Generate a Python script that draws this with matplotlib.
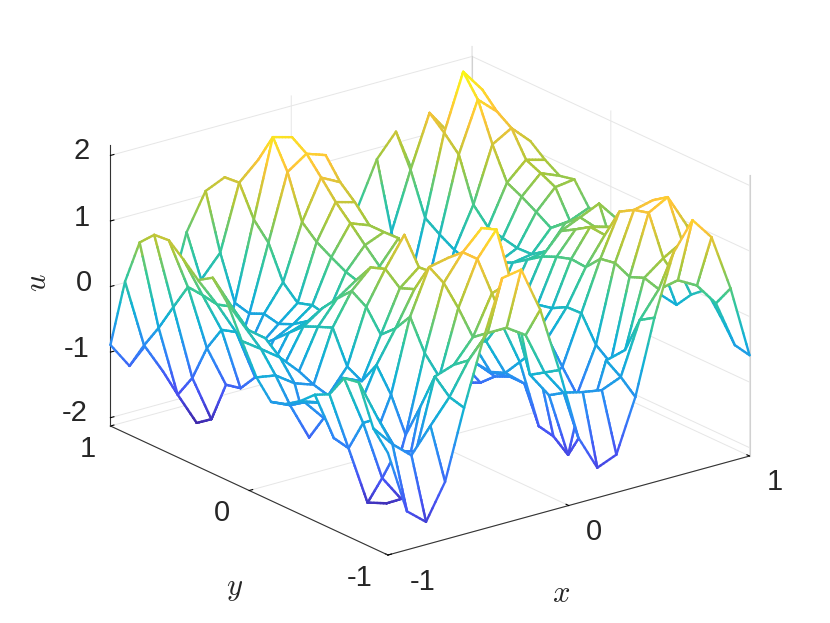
import numpy as np
import matplotlib
matplotlib.use("Agg")
import matplotlib.pyplot as plt
from matplotlib.colors import LinearSegmentedColormap
from mpl_toolkits.mplot3d.art3d import Line3DCollection, Poly3DCollection

plt.rcParams['font.family'] = ['Liberation Sans', 'DejaVu Sans']
plt.rcParams['mathtext.fontset'] = 'cm'

# u values, one line per x position (x=-1 to x=1), y runs from 1 down to -1
u_by_x = [
    [-.89, .18, .88, 1.10, 1.12, .93, .72, .86, .58, .10, -.35, -.62, -.55, -.40, -.20, -.09, .26, .30, -.30, -.57],
    [-1.29, -.87, -.50, -.08, .33, .31, .27, .34, .10, -.10, -.40, -.75, -.60, -.50, -.94, -.99, -.50, -.33, -.62, -1.54],
    [-1.00, -1.35, -1.60, -1.24, -.68, -.30, -.23, -.15, -.12, -.31, -.60, -1.32, -.92, -1.00, -1.05, -1.90, -1.42, -.90, -.87, -1.78],
    [-.50, -1.30, -2.11, -1.95, -1.32, -1.27, -1.00, -.79, -.60, -.60, -.70, -.76, -.39, -.80, -1.20, -1.99, -1.82, -1.00, -.50, -1.25],
    [.51, -.11, -1.50, -1.30, -.95, -.70, -.50, -.30, -.10, .00, .09, -.40, -.52, -.17, -.52, -1.03, -.50, .07, -.14, -.20],
    [1.06, .22, -.44, -.50, -.40, -.45, -.35, -.20, .10, .35, .57, .43, .11, .31, .59, .14, -.12, .17, .34, .76],
    [1.19, 1.21, .75, .50, .00, -.21, -.14, -.19, .20, .55, .85, .93, .74, .83, 1.27, 1.13, .85, .51, .68, 1.62],
    [.95, 1.48, 1.93, 1.50, .84, .64, .51, .39, .32, .40, .55, 1.37, .98, 1.00, 1.33, 1.52, 1.52, 1.10, .68, 1.67],
    [.50, 1.30, 1.85, 1.70, 1.44, 1.17, .95, .72, .50, .30, .20, .30, .50, .80, 1.00, 1.81, 1.89, 1.20, .49, .98],
    [-.20, .50, 1.30, 1.60, 1.29, 1.09, .84, .84, .85, .40, -.20, -.30, -.30, -.20, -.10, .30, .40, -.30, -.16, -.02],
    [-1.00, -.90, -.20, .30, .10, -.30, -.60, -.70, -.30, -.50, -.90, -.80, -.72, -.75, -.66, -.39, -.11, -.69, -.55, -1.13],
    [-1.40, -1.30, -.90, -.80, -.90, -1.20, -1.40, -1.40, -1.30, -1.30, -1.30, -1.20, -1.00, -.90, -.90, -1.45, -1.50, -1.68, -.62, -1.67],
    [-.70, -1.20, -1.60, -1.60, -1.70, -1.80, -1.80, -1.70, -1.60, -1.50, -1.30, -1.10, -.90, -.80, -1.00, -1.24, -1.50, -1.30, -.67, -1.55],
    [.18, -.60, -1.40, -1.50, -1.50, -1.40, -1.30, -1.20, -1.10, -.90, -.80, -.70, -.60, -.47, -.81, -1.13, -1.34, -.40, -.55, -.75],
    [.83, -.18, -1.10, -1.20, -1.30, -1.20, -1.00, -.80, -.60, -.40, -.30, -.25, -.20, -.08, -.07, -.45, -.62, -.32, .24, .38],
    [1.17, .69, .06, -.09, -.22, -.30, -.20, -.10, .00, .15, .30, .40, .47, .45, .68, .72, .61, .70, .63, 1.29],
    [.40, 1.48, 1.28, 1.05, .39, .15, .09, .04, .05, .20, .61, .74, .88, .86, 1.32, 1.45, 1.51, .92, .69, 1.71],
    [.90, 1.10, 2.13, 1.81, 1.23, .75, .64, .51, .37, .55, .74, .70, .80, .90, 1.05, 1.52, 1.67, 1.09, .53, 1.37],
    [1.00, 1.40, 1.78, 1.55, 1.40, 1.02, .92, .81, .40, .55, .87, .27, .30, .40, .50, .60, 1.16, .60, .18, .51],
    [.70, 1.00, 1.10, 1.10, 1.12, .94, .80, .85, .52, .50, .54, .10, -.10, -.30, -.34, -.08, .10, -.20, -.54, -.59],
]
x_ticks = [-1, 0, 1]
y_ticks = [-1, 0, 1]
z_ticks = [-2, -1, 0, 1, 2]
z_range = [-2.127, 2.16]

# parula(8) from matlab
parula_colors = [(.2422, .1504, .6603), (.2810, .3228, .9579), (.1786, .5289, .9682), (.0689, .6948, .8394),
                 (.2161, .7843, .5923), (.6720, .7793, .2227), (.9970, .7659, .2199), (.9769, .9839, .0805)]
parula = LinearSegmentedColormap.from_list("parula", parula_colors)

u = np.array(u_by_x)
n = u.shape[0]
xs = np.linspace(-1, 1, n)
ys = np.linspace(1, -1, n)


def edge_segments(p, q, pieces=6):
    # one mesh edge cut in short pieces so the colour can follow the height
    t = np.linspace(0, 1, pieces + 1)[:, None]
    pts = np.array(p) + t * (np.array(q) - np.array(p))
    segs = np.stack([pts[:-1], pts[1:]], axis=1)
    vals = (segs[:, :, 2].mean(axis=1) - z_range[0]) / (z_range[1] - z_range[0])
    return segs, parula(vals)


W = 690.6
left = 430 - W * .5135
bottom = 322.5 - W * .5135
fig = plt.figure(figsize=(8.3, 6.23), dpi=100)
ax = fig.add_axes([left / 830, bottom / 623, W / 830, W / 623], projection='3d', proj_type='ortho',
                  computed_zorder=False)
ax.set_box_aspect((1, 1, .66))
ax.view_init(elev=20.9, azim=-127.5)
ax.set_xlim(-1, 1, view_margin=0)
ax.set_ylim(-1, 1, view_margin=0)
ax.set_zlim(z_range[0], z_range[1], view_margin=0)
ax.patch.set_alpha(0)

ax.set_xticks(x_ticks)
ax.set_yticks(y_ticks)
ax.set_zticks(z_ticks)
ax.set_xticklabels([])
ax.set_yticklabels([])
ax.set_zticklabels([])
for axis in (ax.xaxis, ax.yaxis, ax.zaxis):
    axis.set_pane_color((1, 1, 1, 0))
    axis.pane.set_edgecolor((1, 1, 1, 0))
    axis._axinfo['grid'].update(color=(.9, .9, .9), linewidth=.7)
    axis._axinfo['tick'].update(inward_factor=0, outward_factor=.12, linewidth={True: .8, False: .8}, color=(.3, .3, .3))
    axis.line.set_color((.2, .2, .2))
    axis.line.set_linewidth(.8)

# the two light vertical box lines
ax.plot([1, 1], [-1, -1], z_range, color=(.82, .82, .82), lw=.8, zorder=0)
ax.plot([1, 1], [1, 1], [z_range[0], 2], color=(.82, .82, .82), lw=.8, zorder=0)

# draw the mesh back to front, white face first and then its coloured edges
order = 1
for i in range(n - 2, -1, -1):
    for j in range(n - 1):
        corners = [(xs[i], ys[j], u[i, j]), (xs[i + 1], ys[j], u[i + 1, j]),
                   (xs[i + 1], ys[j + 1], u[i + 1, j + 1]), (xs[i], ys[j + 1], u[i, j + 1])]
        face = Poly3DCollection([corners], facecolors='white', edgecolors='none', zorder=order)
        ax.add_collection3d(face)
        order += 1
        all_segs = []
        all_cols = []
        for k in range(4):
            segs, cols = edge_segments(corners[k], corners[(k + 1) % 4])
            all_segs.append(segs)
            all_cols.append(cols)
        lines = Line3DCollection(np.concatenate(all_segs), colors=np.concatenate(all_cols), linewidths=1.7,
                                 capstyle='round', zorder=order)
        ax.add_collection3d(lines)
        order += 1

# tick and axis labels, placed in pixels of the picture
tick_texts = [("2", 82, 151), ("1", 82, 218), ("0", 84, 283), ("-1", 77, 349), ("-2", 75, 413),
              ("-1", 423, 582), ("0", 594, 532), ("1", 775, 482),
              ("1", 88, 449), ("0", 222, 513), ("-1", 360, 578)]
for s, px, py in tick_texts:
    fig.text(px / 830, 1 - py / 623, s, fontsize=21, color=(.15, .15, .15), ha='center', va='center')
fig.text(561 / 830, 1 - 594 / 623, r'$x$', fontsize=22, ha='center', va='center', color=(.15, .15, .15))
fig.text(235 / 830, 1 - 588 / 623, r'$y$', fontsize=22, ha='center', va='center', color=(.15, .15, .15))
fig.text(38 / 830, 1 - 283 / 623, r'$u$', fontsize=22, ha='center', va='center', rotation=90, color=(.15, .15, .15))

fig.savefig("out.png", dpi=100)
